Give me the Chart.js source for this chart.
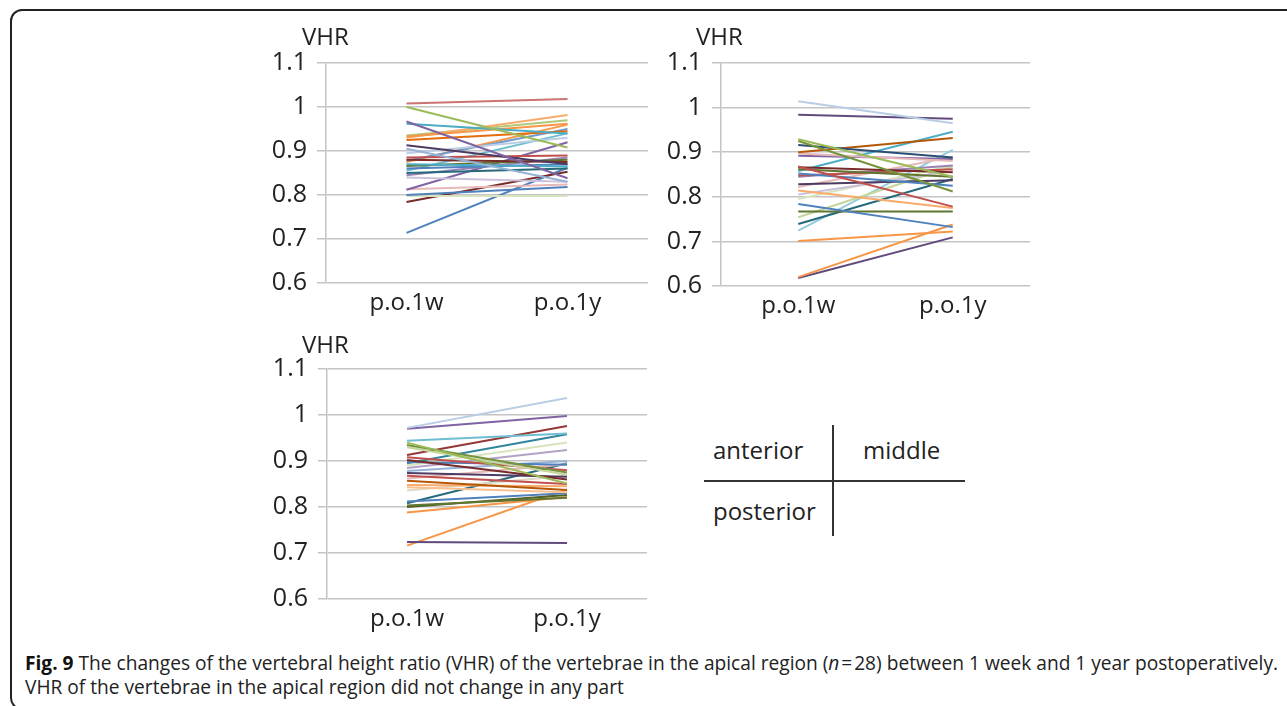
<!DOCTYPE html>
<html>
<head>
<meta charset="utf-8">
<script src="https://cdn.jsdelivr.net/npm/chart.js@4"></script>
<style>
  html, body { margin: 0; padding: 0; background: #fff; }
  body { width: 1287px; height: 706px; position: relative; overflow: hidden; font-family: "Open Sans", sans-serif; color: #222; }
  .frame { position: absolute; left: 10px; top: 9px; width: 1320px; height: 697px; border: 2px solid #222; border-radius: 12px; }
  canvas { position: absolute; }
  .lbl { position: absolute; font-size: 24px; line-height: 30px; white-space: nowrap; color: #222; }
  .hline { position: absolute; height: 2px; background: #333; }
  .vline { position: absolute; width: 2px; background: #333; }
  .cap { position: absolute; left: 25px; font-family: "Liberation Sans Narrow", "Open Sans", sans-serif; font-size: 20px; line-height: 24px; white-space: nowrap; transform-origin: 0 50%; color: #222; }
  .cap b { color: #111; }
</style>
</head>
<body>
<div class="frame"></div>

<canvas id="anteriorChart" width="408" height="295" style="left:250px;top:38px"></canvas>
<canvas id="middleChart" width="395" height="298" style="left:645px;top:38px"></canvas>
<canvas id="posteriorChart" width="406" height="305" style="left:251px;top:344px"></canvas>

<div class="lbl" style="left:302px;top:21px">VHR</div>
<div class="lbl" style="left:696px;top:21px">VHR</div>
<div class="lbl" style="left:302px;top:329px">VHR</div>

<!-- key for the three panels -->
<div class="lbl" style="left:713px;top:435px">anterior</div>
<div class="lbl" style="left:863px;top:435px">middle</div>
<div class="lbl" style="left:713px;top:496px">posterior</div>
<div class="hline" style="left:704px;top:480px;width:261px"></div>
<div class="vline" style="left:832px;top:425px;height:111px"></div>

<div id="cap1" class="cap" style="top:651px"><b>Fig. 9</b> The changes of the vertebral height ratio (VHR) of the vertebrae in the apical region (<i>n</i>&#8202;=&#8202;28) between 1 week and 1 year postoperatively.</div>
<div id="cap2" class="cap" style="top:675px">VHR of the vertebrae in the apical region did not change in any part</div>

<script>
const categories = ["p.o.1w", "p.o.1y"];
const yMin = 0.6, yMax = 1.1, yStep = 0.1;

// anterior (top left)
const anteriorWeek = [1.008, 1.000, 0.967, 0.962, 0.933, 0.930, 0.935, 0.925, 0.913, 0.905, 0.895, 0.885, 0.880, 0.878,
                      0.875, 0.870, 0.866, 0.860, 0.855, 0.850, 0.845, 0.840, 0.812, 0.813, 0.800, 0.798, 0.784, 0.714];
const anteriorYear = [1.018, 0.908, 0.838, 0.940, 0.962, 0.982, 0.970, 0.945, 0.870, 0.830, 0.930, 0.890, 0.875, 0.950,
                      0.960, 0.865, 0.880, 0.870, 0.940, 0.860, 0.885, 0.830, 0.920, 0.824, 0.818, 0.798, 0.853, 0.862];
const anteriorColors = ["#CD7371", "#9BBB59", "#8064A2", "#4BACC6", "#F79646", "#F9AB6B", "#AFC97A", "#E46C0A", "#4D3B62",
                        "#95B3D7", "#B9CDE5", "#C0504D", "#772C2A", "#729ACA", "#F79646", "#4BACC6", "#5F7530", "#4F81BD",
                        "#6FBDD1", "#276A7C", "#9983B5", "#CCC1DA", "#8064A2", "#E6B9B8", "#4F81BD", "#D7E4BD", "#772C2A", "#4F81BD"];

// middle (top right)
const middleWeek = [1.014, 0.984, 0.929, 0.925, 0.916, 0.900, 0.897, 0.892, 0.868, 0.866, 0.862, 0.858, 0.852, 0.848,
                    0.845, 0.828, 0.822, 0.814, 0.805, 0.795, 0.784, 0.767, 0.754, 0.739, 0.724, 0.701, 0.620, 0.618];
const middleYear = [0.965, 0.975, 0.845, 0.812, 0.888, 0.932, 0.880, 0.885, 0.778, 0.855, 0.845, 0.946, 0.825, 0.862,
                    0.870, 0.837, 0.890, 0.775, 0.858, 0.870, 0.732, 0.767, 0.868, 0.840, 0.905, 0.722, 0.738, 0.709];
const middleColors = ["#B9CDE5", "#604A7B", "#9BBB59", "#77933C", "#2C4D75", "#B65708", "#E6B9B8", "#8064A2", "#C0504D",
                      "#772C2A", "#5F7530", "#4BACC6", "#4F81BD", "#C0504D", "#9983B5", "#4D3B62", "#E6B9B8", "#F9AB6B",
                      "#CCC1DA", "#D7E4BD", "#4F81BD", "#5F7530", "#C3D69B", "#276A7C", "#93CDDD", "#F79646", "#F79646", "#604A7B"];

// posterior (bottom left)
const posteriorWeek = [0.972, 0.970, 0.944, 0.940, 0.935, 0.930, 0.913, 0.908, 0.902, 0.898, 0.895, 0.890, 0.885, 0.878,
                       0.874, 0.868, 0.862, 0.857, 0.848, 0.843, 0.836, 0.812, 0.808, 0.803, 0.800, 0.788, 0.724, 0.716];
const posteriorYear = [1.037, 0.998, 0.960, 0.851, 0.875, 0.870, 0.976, 0.880, 0.860, 0.892, 0.958, 0.940, 0.924, 0.900,
                       0.866, 0.850, 0.893, 0.837, 0.845, 0.832, 0.868, 0.830, 0.895, 0.820, 0.826, 0.822, 0.722, 0.838];
const posteriorColors = ["#B9CDE5", "#8064A2", "#6FBDD1", "#9BBB59", "#77933C", "#C3D69B", "#953735", "#C0504D", "#772C2A",
                         "#4F81BD", "#31859C", "#D7E4BD", "#B3A2C7", "#95B3D7", "#4D3B62", "#C0504D", "#E6B9B8", "#B65708",
                         "#F9AB6B", "#FAC090", "#DDD9C3", "#4F81BD", "#276A7C", "#5F7530", "#4F6228", "#F79646", "#604A7B", "#F79646"];

const gridGray = "#C4C4C4";

function makeChart(id, week, year, colors) {
    const datasets = week.map((w, i) => ({
        data: [w, year[i]],
        borderColor: colors[i],
        borderWidth: 2,
        pointRadius: 0,
        tension: 0,
        fill: false
    }));

    new Chart(document.getElementById(id).getContext("2d"), {
        type: "line",
        data: { labels: categories, datasets },
        options: {
            responsive: false,
            animation: false,
            layout: { padding: { top: 15, right: 10, left: 0, bottom: 0 } },
            plugins: { legend: { display: false }, tooltip: { enabled: false }, title: { display: false } },
            scales: {
                x: {
                    offset: true,
                    grid: { display: false, drawTicks: false },
                    border: { display: false },
                    ticks: { padding: 6, color: "#222", font: { family: "Open Sans", size: 24 } },
                    afterFit: s => { s.height = 50; }
                },
                y: {
                    min: yMin,
                    max: yMax,
                    ticks: {
                        stepSize: yStep,
                        padding: 10,
                        color: "#222",
                        font: { family: "Open Sans", size: 25 },
                        callback: v => String(Math.round(v * 10) / 10)
                    },
                    grid: { color: gridGray, lineWidth: 1.5, tickLength: 9 },
                    border: { display: true, color: gridGray, width: 1.5 },
                    afterFit: s => { s.width = 76; }
                }
            }
        }
    });
}

makeChart("anteriorChart", anteriorWeek, anteriorYear, anteriorColors);
makeChart("middleChart", middleWeek, middleYear, middleColors);
makeChart("posteriorChart", posteriorWeek, posteriorYear, posteriorColors);

// squeeze the caption into the width the figure gives it
const cap1 = document.getElementById("cap1");
const cap2 = document.getElementById("cap2");
const k = 1253 / cap1.getBoundingClientRect().width;
cap1.style.transform = `scaleX(${k})`;
cap2.style.transform = `scaleX(${k})`;
</script>
</body>
</html>
